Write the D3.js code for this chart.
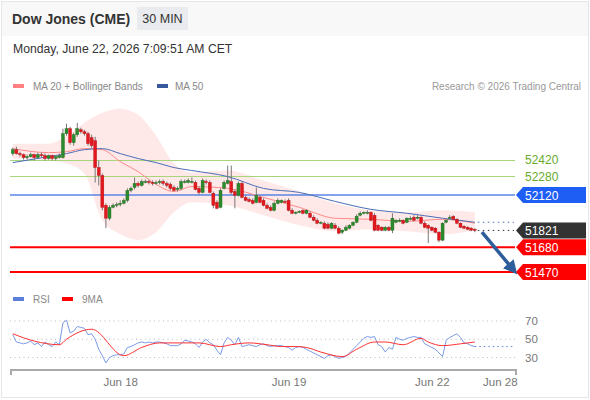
<!DOCTYPE html>
<html>
<head>
<meta charset="utf-8">
<script src="https://cdn.jsdelivr.net/npm/d3@7"></script>
<style>
  body { margin: 0; background: #fff; }
  svg text { font-family: "Liberation Sans", Arial, sans-serif; }
</style>
</head>
<body>
<svg id="chart" width="590" height="400"></svg>
<script>
// candles, 30 min bars
var opens = [52470,52503,52470,52461,52436,52444,52461,52436,52461,52453,52428,52453,52428,52436,52436,52638,52680,52562,52629,52671,
  52654,52638,52604,52579,52352,52285,52033,51924,52016,52033,52041,52050,52075,52159,52184,52218,52201,52226,52234,52226,
  52218,52226,52234,52218,52209,52184,52167,52176,52226,52226,52226,52226,52176,52142,52234,52226,52134,52058,52016,52176,
  52218,52234,52150,52117,52218,52100,52083,52075,52058,52100,52075,52033,52016,51991,52050,52058,52066,52075,51991,51966,
  51974,51991,51966,51966,51932,51907,51882,51882,51873,51840,51865,51840,51806,51823,51840,51865,51890,51949,51966,51966,
  51974,51949,51865,51848,51823,51848,51823,51890,51898,51907,51890,51915,51932,51924,51932,51882,51865,51848,51840,51806,
  51739,51890,51924,51940,51915,51882,51856,51848,51840,51831];
var highs = [52520,52528,52486,52470,52461,52478,52470,52478,52478,52470,52461,52461,52453,52470,52680,52722,52696,52646,52730,52688,
  52671,52654,52629,52612,52411,52302,52050,52033,52050,52058,52075,52092,52176,52192,52268,52234,52251,52251,52251,52243,
  52243,52251,52251,52234,52226,52201,52192,52251,52251,52260,52268,52243,52192,52260,52251,52243,52150,52075,52176,52243,
  52369,52369,52167,52234,52234,52117,52100,52092,52184,52117,52092,52050,52033,52066,52092,52083,52083,52092,52008,51982,
  51991,51999,51999,51982,51949,51924,51898,51898,51890,51890,51882,51856,51831,51865,51873,51898,51957,51982,51982,51991,
  51982,51966,51873,51856,51856,51856,51966,51915,51924,51915,51932,51940,51949,51949,51940,51898,51873,51856,51848,51814,
  51890,51915,51949,51949,51924,51890,51865,51856,51848,51840];
var lows = [52453,52461,52444,52419,52419,52436,52411,52428,52436,52411,52419,52411,52411,52428,52428,52621,52545,52537,52612,52638,
  52621,52537,52520,52226,52201,51991,51840,51907,52008,52016,52024,52041,52058,52142,52167,52184,52192,52218,52209,52201,
  52209,52209,52201,52184,52159,52150,52150,52159,52218,52218,52218,52159,52125,52134,52209,52134,52008,51999,52008,52167,
  52209,52125,52008,52108,52092,52066,52058,52041,52050,52050,52024,51999,51982,51982,52041,52050,52050,51982,51957,51957,
  51966,51957,51957,51924,51898,51873,51873,51831,51831,51831,51831,51789,51789,51814,51831,51856,51882,51940,51957,51957,
  51898,51814,51814,51814,51814,51814,51798,51882,51890,51873,51882,51907,51898,51915,51873,51840,51714,51814,51798,51722,
  51730,51882,51915,51907,51873,51840,51831,51823,51814,51806];
var closes = [52503,52470,52461,52436,52444,52461,52436,52461,52453,52428,52453,52428,52444,52453,52638,52680,52562,52629,52680,52654,
  52638,52554,52537,52352,52285,52016,51924,52016,52033,52041,52050,52075,52159,52176,52218,52201,52234,52234,52226,52218,
  52226,52234,52218,52201,52176,52159,52176,52234,52234,52243,52234,52167,52142,52243,52226,52142,52033,52008,52159,52226,
  52243,52142,52117,52218,52100,52075,52066,52050,52117,52058,52033,52008,51991,52050,52075,52075,52058,51991,51966,51974,
  51982,51966,51991,51932,51907,51882,51890,51840,51840,51882,51840,51798,51823,51848,51865,51890,51940,51966,51974,51974,
  51907,51823,51823,51823,51848,51823,51924,51907,51907,51882,51924,51924,51907,51932,51882,51848,51840,51823,51806,51739,
  51882,51907,51932,51915,51882,51848,51840,51831,51823,51821];

// indicator lines, sampled at candle indices
var maIdx   = [0,10,15,20,25,30,35,40,45,50,60,70,80,90,100,110,120,129];
var ma20    = [52512,52478,52486,52512,52503,52402,52318,52209,52150,52192,52176,52100,52016,51924,51915,51898,51915,51882];
var ma50    = [52394,52444,52470,52503,52512,52470,52428,52394,52352,52327,52276,52176,52142,52066,51999,51966,51924,51890];
var bbUpper = [52554,52554,52621,52730,52814,52848,52797,52621,52386,52310,52327,52243,52150,52050,51991,51974,51991,51974];
var bbLower = [52428,52411,52386,52300,51907,51790,51739,51806,51974,52058,52033,51949,51865,51814,51831,51814,51789,51823];

// RSI per candle
var rsi = [55,47,46,45,46,48,44,46,42,47,44,42,47,44,68,71,57,59,64,63,
  62,55,56,50,39,32,24,30,32,33,33,34,41,42,44,46,47,46,47,46,
  47,47,46,45,43,43,43,45,49,48,47,45,41,47,50,46,44,38,33,46,
  52,49,44,52,42,43,44,43,42,44,45,43,42,43,43,43,42,41,38,41,
  42,41,39,37,35,33,31,29,32,33,31,29,30,31,35,39,43,47,51,53,
  52,53,44,42,36,41,39,52,50,49,51,52,53,52,52,45,43,41,39,35,
  31,49,52,54,56,52,46,45,43,42];
var ma9Idx = [0,6,13,15,22,31,36,41,47,52,58,61,66,71,75,79,82,86,92,96,101,104,109,114,116,120,125,129];
var ma9    = [56,48,44,50,61,32,41,46,46,46,42,44,46,44,42,42,41,36,31,39,47,47,44,51,47,43,45,47];

// levels
var resistances = [52420, 52280];
var pivot = 52120;
var supports = [51680, 51470];
var lastPrice = 51821;

// x axis labels at candle index
var tickIdx = [30, 77, 117, 136];
var tickLabels = ["Jun 18", "Jun 19", "Jun 22", "Jun 28"];

var svg = d3.select("#chart");

// frame + header
svg.append("rect").attr("x", 1.5).attr("y", 1.5).attr("width", 587).attr("height", 396)
   .attr("fill", "#fff").attr("stroke", "#e6e6e6");
svg.append("rect").attr("x", 2).attr("y", 2).attr("width", 586).attr("height", 34).attr("fill", "#f8f8f8");
svg.append("text").attr("x", 12).attr("y", 24).attr("font-size", 14).attr("font-weight", "bold")
   .attr("fill", "#333").text("Dow Jones (CME)");
svg.append("rect").attr("x", 137).attr("y", 7).attr("width", 51).attr("height", 23).attr("fill", "#e9ebee");
svg.append("text").attr("x", 162.5).attr("y", 23).attr("text-anchor", "middle").attr("font-size", 12.5)
   .attr("fill", "#333").text("30 MIN");
svg.append("text").attr("x", 13).attr("y", 53).attr("font-size", 12.2).attr("fill", "#333")
   .text("Monday, June 22, 2026 7:09:51 AM CET");

// legend
svg.append("rect").attr("x", 13).attr("y", 84).attr("width", 11).attr("height", 4).attr("fill", "#ff8080");
svg.append("text").attr("x", 33).attr("y", 90).attr("font-size", 10).attr("fill", "#888").text("MA 20 + Bollinger Bands");
svg.append("rect").attr("x", 157).attr("y", 84).attr("width", 11).attr("height", 4).attr("fill", "#35599a");
svg.append("text").attr("x", 175).attr("y", 90).attr("font-size", 10).attr("fill", "#888").text("MA 50");
svg.append("text").attr("x", 581).attr("y", 90).attr("text-anchor", "end").attr("font-size", 10)
   .attr("fill", "#999").text("Research \u00a9 2026 Trading Central");

// scales
var x = d3.scaleLinear().domain([-0.5, 140.5]).range([11, 516]);
var y = d3.scaleLinear().domain([51470, 52420]).range([272, 159.5]);
var yr = d3.scaleLinear().domain([30, 70]).range([357.5, 321]);

// bollinger band
var bb = maIdx.map(function(d, i){ return {i: d, u: bbUpper[i], l: bbLower[i]}; });
svg.append("path").datum(bb)
   .attr("fill", "#ffdede").attr("fill-opacity", 0.7)
   .attr("d", d3.area().curve(d3.curveMonotoneX)
      .x(function(d){ return x(d.i); })
      .y0(function(d){ return y(d.l); })
      .y1(function(d){ return y(d.u); }));

// level lines
var x0 = 10, x1 = 515;
resistances.forEach(function(v){
  var ly = Math.round(y(v)) + 0.5;
  svg.append("line").attr("x1", x0).attr("x2", x1).attr("y1", ly).attr("y2", ly)
     .attr("stroke", "#a8d47a").attr("stroke-width", 1);
  svg.append("text").attr("x", 525).attr("y", y(v) + 4.5).attr("font-size", 12)
     .attr("fill", "#6aab2e").text(v);
});
svg.append("line").attr("x1", x0).attr("x2", x1).attr("y1", y(pivot)).attr("y2", y(pivot))
   .attr("stroke", "#5a85e6").attr("stroke-width", 1.5);
supports.forEach(function(v){
  svg.append("line").attr("x1", x0).attr("x2", x1).attr("y1", y(v)).attr("y2", y(v))
     .attr("stroke", "#ff0000").attr("stroke-width", 2);
});

// moving averages
var lineGen = d3.line().curve(d3.curveMonotoneX)
   .x(function(d){ return x(d[0]); }).y(function(d){ return y(d[1]); });
svg.append("path").datum(maIdx.map(function(d, i){ return [d, ma20[i]]; }))
   .attr("fill", "none").attr("stroke", "#ff8a8a").attr("stroke-width", 1).attr("d", lineGen);
svg.append("path").datum(maIdx.map(function(d, i){ return [d, ma50[i]]; }))
   .attr("fill", "none").attr("stroke", "#4a6fb8").attr("stroke-width", 1).attr("d", lineGen);

// dotted extensions
var lastI = closes.length - 1;
svg.append("line").attr("x1", x(lastI) + 3).attr("x2", 514)
   .attr("y1", y(ma50[ma50.length - 1])).attr("y2", y(ma50[ma50.length - 1]))
   .attr("stroke", "#4a6fb8").attr("stroke-dasharray", "1.5,3.5");
svg.append("line").attr("x1", x(lastI) + 3).attr("x2", 514)
   .attr("y1", y(lastPrice)).attr("y2", y(lastPrice))
   .attr("stroke", "#333").attr("stroke-dasharray", "1.5,3.5");

// candles
var candles = closes.map(function(c, i){
  return {i: i, o: opens[i], h: highs[i], l: lows[i], c: c};
});
var g = svg.append("g");
g.selectAll("line.wick").data(candles).enter().append("line")
   .attr("class", "wick")
   .attr("x1", function(d){ return x(d.i); }).attr("x2", function(d){ return x(d.i); })
   .attr("y1", function(d){ return y(d.h); }).attr("y2", function(d){ return y(d.l); })
   .attr("stroke", "#777").attr("stroke-width", 1);
g.selectAll("rect.body").data(candles).enter().append("rect")
   .attr("class", "body")
   .attr("x", function(d){ return x(d.i) - 1.5; })
   .attr("width", 3)
   .attr("y", function(d){ return y(Math.max(d.o, d.c)); })
   .attr("height", function(d){ return Math.max(1, Math.abs(y(d.o) - y(d.c))); })
   .attr("fill", function(d){ return d.c >= d.o ? "#2b8a2b" : "#e3181e"; })
   .attr("stroke", function(d){ return d.c >= d.o ? "#1d6b1d" : "#b51015"; })
   .attr("stroke-width", 0.4);

// forecast arrow
var arrowStart = [lastI + 2, lastPrice - 15];
var arrowEnd = [139.6, supports[1] + 25];
svg.append("defs").append("marker").attr("id", "head")
   .attr("viewBox", "0 0 10 10").attr("refX", 5).attr("refY", 5)
   .attr("markerWidth", 4).attr("markerHeight", 4).attr("orient", "auto")
   .append("path").attr("d", "M0,0 L10,5 L0,10 z").attr("fill", "#2e5d9c");
svg.append("line")
   .attr("x1", x(arrowStart[0])).attr("y1", y(arrowStart[1]))
   .attr("x2", x(arrowEnd[0])).attr("y2", y(arrowEnd[1]))
   .attr("stroke", "#2e5d9c").attr("stroke-width", 3.5).attr("marker-end", "url(#head)");

// price tags
function tag(v, color){
  var cy = y(v);
  svg.append("path")
     .attr("d", "M516," + cy + " L523," + (cy - 8) + " L586," + (cy - 8) + " L586," + (cy + 8) + " L523," + (cy + 8) + " Z")
     .attr("fill", color);
  svg.append("text").attr("x", 525).attr("y", cy + 4.5).attr("font-size", 12)
     .attr("fill", "#fff").text(v);
}
tag(pivot, "#1f5ef5");
tag(lastPrice, "#333333");
supports.forEach(function(v){ tag(v, "#ff0000"); });

// RSI panel
svg.append("rect").attr("x", 13).attr("y", 297).attr("width", 11).attr("height", 4).attr("fill", "#5b7fdb");
svg.append("text").attr("x", 33).attr("y", 303).attr("font-size", 10).attr("fill", "#888").text("RSI");
svg.append("rect").attr("x", 62).attr("y", 297).attr("width", 11).attr("height", 4).attr("fill", "#ff0000");
svg.append("text").attr("x", 82).attr("y", 303).attr("font-size", 10).attr("fill", "#888").text("9MA");

[70, 50, 30].forEach(function(v){
  svg.append("line").attr("x1", 10).attr("x2", 515).attr("y1", yr(v)).attr("y2", yr(v))
     .attr("stroke", "#bbb").attr("stroke-dasharray", "1,3.5");
  svg.append("text").attr("x", 525).attr("y", yr(v) + 4).attr("font-size", 11.5)
     .attr("fill", "#777").text(v);
});

var rsiLine = d3.line().x(function(d, i){ return x(i); }).y(function(d){ return yr(d); });
svg.append("path").datum(rsi).attr("fill", "none").attr("stroke", "#7b9be8")
   .attr("stroke-width", 1).attr("d", rsiLine);
svg.append("line").attr("x1", x(lastI)).attr("x2", 515)
   .attr("y1", yr(rsi[lastI])).attr("y2", yr(rsi[lastI]))
   .attr("stroke", "#5b7fdb").attr("stroke-dasharray", "1.5,3");
svg.append("path").datum(ma9Idx.map(function(d, i){ return [d, ma9[i]]; }))
   .attr("fill", "none").attr("stroke", "#ff3030").attr("stroke-width", 1)
   .attr("d", d3.line().curve(d3.curveMonotoneX)
      .x(function(d){ return x(d[0]); }).y(function(d){ return yr(d[1]); }));

// x axis
var axis = svg.append("g").attr("transform", "translate(0,370)")
   .call(d3.axisBottom(x).tickValues(tickIdx).tickFormat(function(d, i){ return tickLabels[i]; })
      .tickSize(0).tickPadding(8));
axis.select(".domain").attr("stroke", "#aaa").attr("stroke-width", 2)
   .attr("d", "M11,5V0H516V5");
axis.selectAll("text").attr("font-size", 11.5).attr("fill", "#777")
   .attr("font-family", "Liberation Sans, Arial, sans-serif");
</script>
</body>
</html>
